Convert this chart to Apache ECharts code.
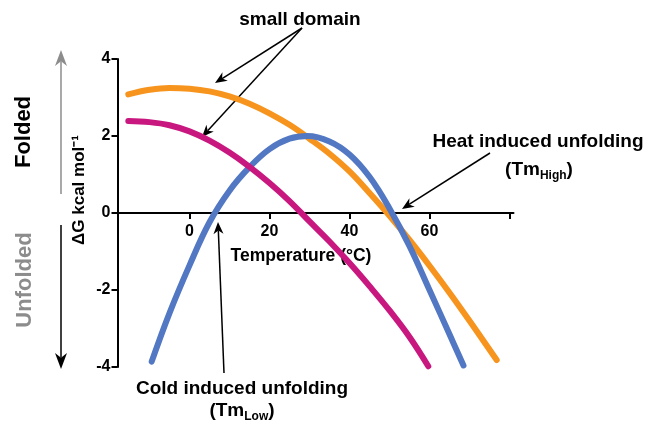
<!DOCTYPE html>
<html>
<head>
<meta charset="utf-8">
<script src="https://cdn.jsdelivr.net/npm/echarts@6/dist/echarts.min.js"></script>
<style>html,body{margin:0;padding:0;background:#fff}#main{width:660px;height:427px}</style>
</head>
<body>
<div id="main"></div>
<script>
// Temperature (°C) and ΔG (kcal/mol) values
const orangeT = [-15.3, -10, -5, 0, 5, 10, 15, 20, 25, 30, 35, 40, 45, 50, 55, 60, 65, 70, 76.8];
const orangeG = [3.08, 3.2, 3.25, 3.23, 3.16, 3.03, 2.84, 2.59, 2.29, 1.93, 1.54, 1.08, 0.52, -0.07, -0.7, -1.37, -2.07, -2.8, -3.82];

const magentaT = [-15.3, -10, -5, 0, 5, 10, 15, 20, 25, 30, 35, 40, 45, 50, 55, 59.7];
const magentaG = [2.39, 2.36, 2.28, 2.12, 1.88, 1.57, 1.2, 0.78, 0.31, -0.22, -0.74, -1.3, -1.9, -2.53, -3.22, -3.98];

const blueT = [-9.45, -5, 0, 5, 10, 15, 20, 25, 29.5, 35, 40, 45, 50, 55, 60, 65, 68.5];
const blueG = [-3.86, -2.6, -1.36, -0.24, 0.58, 1.19, 1.66, 1.93, 2.0, 1.86, 1.52, 0.94, 0.12, -0.86, -2.0, -3.15, -3.96];

const xTickValues = [0, 20, 40, 60, 80];
const xLabelValues = [0, 20, 40, 60];

const FONT = 'Liberation Sans, Arial, Helvetica, sans-serif';

function pairs(t, g) { return t.map((v, i) => [v, g[i]]); }

function arrow(x1, y1, x2, y2, color, w, headLen, headW) {
  const a = Math.atan2(y2 - y1, x2 - x1);
  const c = Math.cos(a), s = Math.sin(a);
  const bx = x2 - headLen * c, by = y2 - headLen * s;
  const nx = x2 - headLen * 0.7 * c, ny = y2 - headLen * 0.7 * s;
  const px = -s * headW / 2, py = c * headW / 2;
  return [
    { type: 'line', silent: true, shape: { x1: x1, y1: y1, x2: nx, y2: ny }, style: { stroke: color, lineWidth: w } },
    { type: 'polygon', silent: true, shape: { points: [[x2, y2], [bx + px, by + py], [nx, ny], [bx - px, by - py]] }, style: { fill: color } }
  ];
}

function txt(text, x, y, size, color, rot, rich) {
  const el = {
    type: 'text', x: x, y: y, rotation: rot || 0, silent: true,
    style: {
      text: text, x: 0, y: 0, fill: color, fontSize: size, fontWeight: 'bold', fontFamily: FONT,
      align: 'center', verticalAlign: 'middle', textAlign: 'center', textVerticalAlign: 'middle'
    }
  };
  if (rich) el.style.rich = rich;
  return el;
}

const subRich = {
  m: { fontSize: 19, fontWeight: 'bold', fontFamily: FONT, lineHeight: 24, fill: '#000' },
  s: { fontSize: 12, fontWeight: 'bold', fontFamily: FONT, lineHeight: 10, verticalAlign: 'bottom', fill: '#000' }
};

const chart = echarts.init(document.getElementById('main'));

const graphics = [].concat(
  [txt('small domain', 300, 20, 19, '#000')],
  arrow(302, 28, 215, 83, '#000', 1.5, 12, 10),
  arrow(302, 28, 202, 137, '#000', 1.5, 12, 10),
  [txt('Heat induced unfolding', 538, 142, 19, '#000')],
  [txt('{m|(Tm}{s|High}{m|)}', 539, 170, 19, '#000', 0, subRich)],
  arrow(490, 153, 402, 209, '#000', 1.5, 12, 10),
  [txt('Cold induced unfolding', 242, 389, 19, '#000')],
  [txt('{m|(Tm}{s|Low}{m|)}', 242, 411, 19, '#000', 0, subRich)],
  arrow(224, 373, 218, 222, '#000', 1.5, 12, 10),
  [txt('Temperature (°C)', 301, 256, 17.5, '#000')],
  [txt('ΔG kcal mol⁻¹', 79, 190, 17, '#000', Math.PI / 2)],
  [txt('Folded', 24, 132, 22, '#000', Math.PI / 2)],
  [txt('Unfolded', 25, 280, 22, '#8c8c8c', Math.PI / 2)],
  arrow(61, 194, 61, 50, '#8c8c8c', 1.5, 16, 12),
  arrow(61, 225, 61, 369, '#000', 1.5, 16, 12)
);

const lineSeries = (name, t, g, color) => ({
  name: name, type: 'line', data: pairs(t, g), smooth: 0.4, symbol: 'none',
  lineStyle: { color: color, width: 6, cap: 'round', join: 'round' },
  silent: true, animation: false
});

chart.setOption({
  animation: false,
  grid: { left: 117.5, right: 146.5, top: 59, bottom: 60, containLabel: false },
  xAxis: {
    type: 'value', min: -18, max: 81, position: 'bottom', offset: -154,
    axisLine: { onZero: false, lineStyle: { color: '#000', width: 2 } },
    axisTick: { show: true, customValues: xTickValues, length: 6, lineStyle: { color: '#000', width: 2 } },
    axisLabel: { customValues: xLabelValues, color: '#000', fontSize: 16, fontWeight: 'bold', fontFamily: FONT, margin: 11 },
    splitLine: { show: false }
  },
  yAxis: {
    type: 'value', min: -4, max: 4, interval: 2,
    axisLine: { show: true, onZero: false, lineStyle: { color: '#000', width: 2 } },
    axisTick: { show: true, length: 6, lineStyle: { color: '#000', width: 2 } },
    axisLabel: { color: '#000', fontSize: 16, fontWeight: 'bold', fontFamily: FONT, margin: 7 },
    splitLine: { show: false }
  },
  series: [
    lineSeries('large', orangeT, orangeG, '#F7941D'),
    lineSeries('full', blueT, blueG, '#5277C3'),
    lineSeries('small', magentaT, magentaG, '#C8177F')
  ],
  graphic: graphics
});
</script>
</body>
</html>
